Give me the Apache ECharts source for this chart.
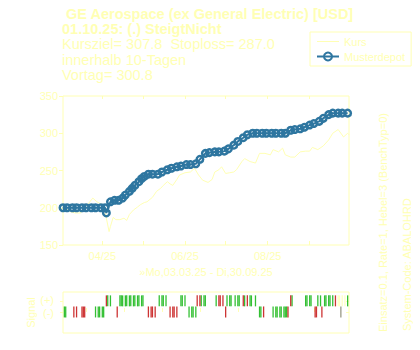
<!DOCTYPE html>
<html><head><meta charset="utf-8">
<script src="https://cdn.jsdelivr.net/npm/echarts@6/dist/echarts.min.js"></script>
<style>html,body{margin:0;padding:0;background:#ffffff}#c{width:420px;height:350px}</style>
</head><body><div id="c"></div>
<script>
// ---------- data ----------
const startDate = '2025-03-03';
const endDate = '2025-09-30';

const titleLines = [' GE Aerospace (ex General Electric) [USD]', '01.10.25: (.) SteigtNicht',
  'Kursziel= 307.8  Stoploss= 287.0', 'innerhalb 10-Tagen', 'Vortag= 300.8'];
const xAxisTitle = '\u00bbMo,03.03.25 - Di,30.09.25';
const rightText1 = 'Einsatz=0.1, Rate=1, Hebel=3 (BenchTyp=0)';
const rightText2 = 'System-Code: ABALOHRD';
const seriesNames = ['Kurs', 'Musterdepot'];

const yTicks = [150, 200, 250, 300, 350];
const monthTickDates = ['04-01', '05-01', '06-01', '07-01', '08-01', '09-01'];
const monthLabelDates = ['04-01', '06-01', '08-01'];
const monthLabels = ['04/25', '06/25', '08/25'];
const signalTickDates = ['03-20', '04-17', '05-15', '06-12', '07-10', '08-07', '09-04'];
const signalRowLabels = ['(-)', '(+)'];

const kursDates = ['03-03','03-05','03-08','03-12','03-16','03-19','03-21','03-25','03-28','04-01','04-03','04-04','04-06','04-07','04-09','04-11','04-14','04-17','04-19','04-21','04-24','04-27','04-29','05-02','05-04','05-08','05-11','05-14','05-16','05-19','05-21','05-23','05-26','05-28','06-01','06-05','06-08','06-11','06-14','06-18','06-21','06-23','06-26','06-28','07-01','07-04','07-07','07-09','07-13','07-15','07-19','07-23','07-26','07-30','08-03','08-05','08-09','08-12','08-14','08-18','08-21','08-25','08-29','09-01','09-03','09-07','09-11','09-15','09-18','09-22','09-26','09-29','09-30'];
const kursValues = [197,200,195,193,193,200,204,213,208,204,198,186,168,175,187,184,184,186,183,191,197,201,204,207,208,214,222,226,230,235,232,230,238,244,247,248,253,244,237,234,238,248,251,255,246,247,248,251,262,266,262,260,273,273,271,278,275,280,271,268,268,275,276,276,281,278,283,291,300,305,295,300,298];

const depotDates = ['03-03','03-06','03-10','03-13','03-17','03-20','03-24','03-27','03-31','04-03','04-04','04-07','04-10','04-13','04-16','04-18','04-21','04-23','04-25','04-28','04-30','05-02','05-05','05-08','05-12','05-15','05-19','05-22','05-26','05-29','06-02','06-05','06-09','06-12','06-16','06-19','06-23','06-26','06-30','07-03','07-07','07-10','07-14','07-17','07-21','07-24','07-28','07-31','08-04','08-07','08-11','08-14','08-18','08-21','08-25','08-28','09-01','09-04','09-08','09-11','09-15','09-18','09-22','09-25','09-29'];
const depotValues = [200,200,200,200,200,200,200,200,200,200,193,208,210,210,213,217,222,226,230,235,239,242,245,245,245,248,251,253,255,256,258,258,259,265,273,274,275,275,276,279,284,289,294,298,300,300,300,300,300,300,300,300,304,305,306,308,311,313,316,320,325,327,327,327,327];

// signal days: (+) row and (-) row, by colour
const plusGreen = ['04-05','04-07','04-14','04-15','04-16','04-18','04-19','04-21','04-22','04-24','04-25','04-27','04-28','04-30','05-01','05-13','05-15','05-16','05-18','05-29','05-30','06-01','06-13','06-15','06-16','06-24','07-02','07-04','07-05','07-08','07-10','07-11','07-15','07-19','07-20','07-23','08-19','08-29','08-30','09-01','09-02','09-07','09-09','09-12','09-13','09-15','09-16','09-18','09-29'];
const plusRed = ['04-04','06-10','06-12','06-26','06-27','06-29','07-14','07-17','08-18','09-20'];
const plusPale = ['09-22','09-23','09-25','09-27'];
const minusGreen = ['03-04','03-05','03-27','03-29','03-30','04-01','04-02','06-04','06-06','06-07','06-09','07-26','07-27','08-05','08-07','08-08','08-10','08-11','08-13','08-14','08-15'];
const minusRed = ['03-11','03-13','03-17','03-18','03-19','04-12','05-05','05-07','05-08','05-10','05-21','05-23','05-24','05-26','07-01','07-29','08-16','09-05','09-06','09-10'];
const minusGray = ['09-24'];

// ---------- helpers / styles ----------
const PALE = '#ffffb4';
const BLUE = '#2e76a0';
const GREEN = '#00b000';
const RED = '#c00000';
const GRAY = '#808068';
const FONT = '"Liberation Sans", Arial, sans-serif';
const t0 = Date.UTC(2025, 2, 3);
function dayOf(s) { const p = s.split('-').map(Number); return (Date.UTC(2025, p[0] - 1, p[1]) - t0) / 864e5; }
const xMax = (Date.parse(endDate) - Date.parse(startDate)) / 864e5;
const monthTicks = monthTickDates.map(dayOf);
const labelDays = monthLabelDates.map(dayOf);
const signalTicks = signalTickDates.map(dayOf);
const lineIcon = 'path://M0,0L0.01,0L0.01,0.01ZM0,4.5L22,4.5L22,5.5L0,5.5ZM21.99,9.99L22,9.99L22,10Z';

function sigSeries(name, dates, row, color) {
  return {
    name: name, type: 'scatter', xAxisIndex: 2, yAxisIndex: 2,
    symbol: 'rect', symbolSize: [1.3, 11],
    itemStyle: { color: color },
    data: dates.map(d => [dayOf(d), row]),
    silent: true
  };
}
// row value 1 = (+), 0 = (-); label nudged slightly outward so the two labels do not touch
function sigRowAxis(value, withName) {
  const labelPos = value === 1 ? 1.12 : -0.12;
  const ax = { gridIndex: 1, type: 'value', min: -1.9, max: 1.8, position: 'left',
    axisLine: { show: false }, splitLine: { show: false },
    axisTick: { customValues: [value], inside: false, length: 3, lineStyle: { color: PALE } },
    axisLabel: { customValues: [labelPos], formatter: () => signalRowLabels[value], color: PALE, fontSize: 11, lineHeight: 11, margin: 9 } };
  if (withName) {
    Object.assign(ax, { name: 'Signal', nameLocation: 'middle', nameRotate: 90, nameGap: 27, nameMoveOverlap: false,
      nameTextStyle: { color: PALE, fontSize: 11 } });
  }
  return ax;
}

const chart = echarts.init(document.getElementById('c'), null, { renderer: 'svg' });
const titleTops = [6.5, 21.5, 36.5, 52, 67.5];
chart.setOption({
  animation: false,
  backgroundColor: '#ffffff',
  textStyle: { fontFamily: FONT },
  title: titleLines.map((t, i) => ({
    text: t, left: 62, top: titleTops[i], padding: 0,
    textStyle: { color: PALE, fontSize: 14.5, lineHeight: 15, fontWeight: i < 2 ? 'bold' : 'normal', fontFamily: FONT }
  })),
  legend: {
    data: [{ name: seriesNames[0], icon: lineIcon, itemStyle: { color: PALE } }, { name: seriesNames[1] }],
    left: 310, top: 32, orient: 'vertical',
    padding: [4, 6, 4, 6], itemGap: 4, itemWidth: 22, itemHeight: 10,
    borderColor: PALE, borderWidth: 1,
    textStyle: { color: PALE, fontSize: 11, fontFamily: FONT }
  },
  grid: [
    { left: 63, top: 96, width: 286, height: 149, show: true, borderColor: PALE, borderWidth: 1, backgroundColor: 'transparent' },
    { left: 63, top: 292, width: 286, height: 41, show: true, borderColor: PALE, borderWidth: 1, backgroundColor: 'transparent' }
  ],
  xAxis: [
    { gridIndex: 0, type: 'value', min: 0, max: xMax, position: 'bottom',
      axisLine: { show: false }, splitLine: { show: false },
      axisTick: { customValues: monthTicks, inside: true, length: 4, lineStyle: { color: PALE } },
      axisLabel: { customValues: labelDays, formatter: v => monthLabels[labelDays.indexOf(v)], color: PALE, fontSize: 11, margin: 5 },
      name: xAxisTitle, nameLocation: 'middle', nameGap: 21, nameTextStyle: { color: PALE, fontSize: 11 } },
    { gridIndex: 0, type: 'value', min: 0, max: xMax, position: 'top',
      axisLine: { show: false }, splitLine: { show: false },
      axisTick: { customValues: monthTicks, inside: true, length: 3, lineStyle: { color: PALE } },
      axisLabel: { show: false } },
    { gridIndex: 1, type: 'value', min: 0, max: xMax, position: 'top',
      axisLine: { show: false }, splitLine: { show: false },
      axisTick: { customValues: signalTicks, inside: false, length: 4, lineStyle: { color: PALE } },
      axisLabel: { show: false } }
  ],
  yAxis: [
    { gridIndex: 0, type: 'value', min: 150, max: 350, interval: 50, position: 'left',
      axisLine: { show: false }, splitLine: { show: false },
      axisTick: { show: true, inside: false, length: 2, lineStyle: { color: PALE } },
      axisLabel: { customValues: yTicks, color: PALE, fontSize: 11, margin: 5 } },
    { gridIndex: 0, type: 'value', min: 150, max: 350, interval: 50, position: 'right',
      axisLine: { show: false }, splitLine: { show: false },
      axisTick: { show: true, inside: true, length: 4, lineStyle: { color: PALE } },
      axisLabel: { show: false } },
    sigRowAxis(1, true),
    { gridIndex: 1, type: 'value', min: -1.9, max: 1.8, position: 'right',
      axisLine: { show: false }, splitLine: { show: false },
      axisTick: { customValues: [0, 1], inside: true, length: 3, lineStyle: { color: PALE } },
      axisLabel: { show: false } },
    sigRowAxis(0, false)
  ],
  series: [
    { name: seriesNames[0], type: 'line', xAxisIndex: 0, yAxisIndex: 0, symbol: 'none',
      lineStyle: { color: PALE, width: 1 }, itemStyle: { color: PALE },
      data: kursDates.map((d, i) => [dayOf(d), kursValues[i]]), z: 2 },
    { name: seriesNames[1], type: 'line', xAxisIndex: 0, yAxisIndex: 0,
      symbol: 'circle', symbolSize: 6.5, showSymbol: true, showAllSymbol: true,
      lineStyle: { color: BLUE, width: 2 },
      itemStyle: { color: 'rgba(255,255,255,0)', borderColor: BLUE, borderWidth: 2.5 },
      data: depotDates.map((d, i) => [dayOf(d), depotValues[i]]), z: 3 },
    sigSeries('plusGreen', plusGreen, 1, GREEN),
    sigSeries('plusRed', plusRed, 1, RED),
    sigSeries('plusPale', plusPale, 1, PALE),
    sigSeries('minusGreen', minusGreen, 0, GREEN),
    sigSeries('minusRed', minusRed, 0, RED),
    sigSeries('minusGray', minusGray, 0, GRAY)
  ],
  graphic: [
    { type: 'text', x: 383, y: 332, rotation: Math.PI / 2, silent: true,
      style: { text: rightText1, fill: PALE, fontSize: 11, fontFamily: FONT, textAlign: 'left', textVerticalAlign: 'middle' } },
    { type: 'text', x: 407, y: 331, rotation: Math.PI / 2, silent: true,
      style: { text: rightText2, fill: PALE, fontSize: 11, fontFamily: FONT, textAlign: 'left', textVerticalAlign: 'middle' } }
  ]
});
</script>
</body></html>
